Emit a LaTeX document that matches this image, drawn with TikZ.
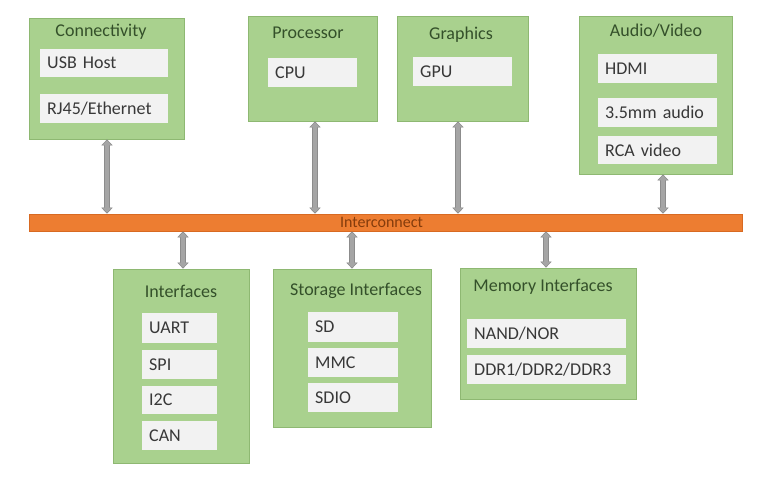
\documentclass[tikz,border=0pt]{standalone}
\usepackage{fontspec}
\setmainfont{Carlito}
\usetikzlibrary{arrows.meta}
\definecolor{grpfill}{HTML}{A9D18E}
\definecolor{grpline}{HTML}{8EB872}
\definecolor{subfill}{HTML}{F2F2F2}
\definecolor{titletext}{HTML}{34502A}
\definecolor{subtext}{HTML}{383838}
\definecolor{barfill}{HTML}{ED7D31}
\definecolor{barline}{HTML}{D86A22}
\definecolor{bartext}{HTML}{843C0C}
\definecolor{arrfill}{HTML}{A5A5A5}
\definecolor{arrline}{HTML}{8C8C8C}
\begin{document}
\begin{tikzpicture}[x=1pt,y=-1pt,
  grp/.style={draw=grpline, line width=0.8pt, fill=grpfill, inner sep=0pt, rectangle},
  ttl/.style={text=titletext, font=\fontsize{18}{21}\selectfont, inner sep=0pt},
  subbox/.style={fill=subfill, anchor=north west, inner xsep=7pt, inner ysep=0pt, align=left,
     text=subtext, font=\fontsize{18}{21}\selectfont},
  arr/.style={draw=arrline, line width=5.4pt, {Triangle[width=11pt,length=6pt]}-{Triangle[width=11pt,length=6pt]},
     postaction={draw=arrfill, line width=3.8pt, shorten <=1pt, shorten >=1pt, {Triangle[width=9pt,length=5pt]}-{Triangle[width=9pt,length=5pt]}}}
]
\useasboundingbox (0,0) rectangle (768,477);
\fill[white] (0,0) rectangle (768,477);

% bar
\node[draw=barline, line width=0.6pt, fill=barfill, minimum width=713pt, minimum height=17pt, inner sep=0pt] (bar) at (385.5,222.5) {};
\node[text=bartext, font=\fontsize{16}{18}\selectfont, inner sep=0pt] (bartitle) at (381.5,222.5) {Interconnect};

% group boxes
\node[grp, minimum width=155pt, minimum height=121pt] (conn) at (106.5,78.5) {};
\node[grp, minimum width=129pt, minimum height=105pt] (proc) at (312.5,68.5) {};
\node[grp, minimum width=131pt, minimum height=105pt] (graph) at (462.5,68.5) {};
\node[grp, minimum width=153pt, minimum height=158pt] (av) at (655.5,95) {};
\node[grp, minimum width=136pt, minimum height=194pt] (intf) at (181,366) {};
\node[grp, minimum width=158pt, minimum height=158pt] (stor) at (352,348) {};
\node[grp, minimum width=176pt, minimum height=131pt] (mem) at (548,333.5) {};

% titles
\node[ttl] (conntitle) at (101,32) {Connectivity};
\node[ttl] (proctitle) at (308,33) {Processor};
\node[ttl] (graphtitle) at (461,35) {Graphics};
\node[ttl] (avtitle) at (656,31) {Audio/Video};
\node[ttl] (intftitle) at (181,291) {Interfaces};
\node[ttl] (stortitle) at (356,291) {Storage Interfaces};
\node[ttl] (memtitle) at (543,287) {Memory Interfaces};

% sub boxes
\node[subbox, text width=114pt, minimum height=28pt] (usb) at (40,49) {USB Host};
\node[subbox, text width=114pt, minimum height=29pt] (rj45) at (40,94) {RJ45/Ethernet};
\node[subbox, text width=75pt, minimum height=29pt] (cpu) at (268,58) {CPU};
\node[subbox, text width=85pt, minimum height=29pt] (gpu) at (413,57) {GPU};
\node[subbox, text width=105pt, minimum height=29pt] (hdmi) at (598,54) {HDMI};
\node[subbox, text width=105pt, minimum height=29pt] (audio) at (598,98) {3.5mm audio};
\node[subbox, text width=105pt, minimum height=28pt] (rca) at (598,136) {RCA video};
\node[subbox, text width=61pt, minimum height=30pt] (uart) at (142,313) {UART};
\node[subbox, text width=61pt, minimum height=29pt] (spi) at (142,350) {SPI};
\node[subbox, text width=61pt, minimum height=28pt] (i2c) at (142,386) {I2C};
\node[subbox, text width=61pt, minimum height=29pt] (can) at (142,421) {CAN};
\node[subbox, text width=76pt, minimum height=30pt] (sd) at (308,312) {SD};
\node[subbox, text width=76pt, minimum height=29pt] (mmc) at (308,348) {MMC};
\node[subbox, text width=76pt, minimum height=29pt] (sdio) at (308,383) {SDIO};
\node[subbox, text width=145pt, minimum height=29pt] (nand) at (467,319) {NAND/NOR};
\node[subbox, text width=145pt, minimum height=29pt] (ddr) at (467,355) {DDR1/DDR2/DDR3};

% connectors
\draw[arr] ([xshift=0.5pt]conn.south) -- ([xshift=0.5pt]conn.south |- bar.north);
\draw[arr] ([xshift=2.5pt]proc.south) -- ([xshift=2.5pt]proc.south |- bar.north);
\draw[arr] ([xshift=-4.5pt]graph.south) -- ([xshift=-4.5pt]graph.south |- bar.north);
\draw[arr] ([xshift=7.5pt]av.south) -- ([xshift=7.5pt]av.south |- bar.north);
\draw[arr] ([xshift=2pt]intf.north |- bar.south) -- ([xshift=2pt]intf.north);
\draw[arr] (stor.north |- bar.south) -- (stor.north);
\draw[arr] ([xshift=-2pt]mem.north |- bar.south) -- ([xshift=-2pt]mem.north);
\end{tikzpicture}
\end{document}
